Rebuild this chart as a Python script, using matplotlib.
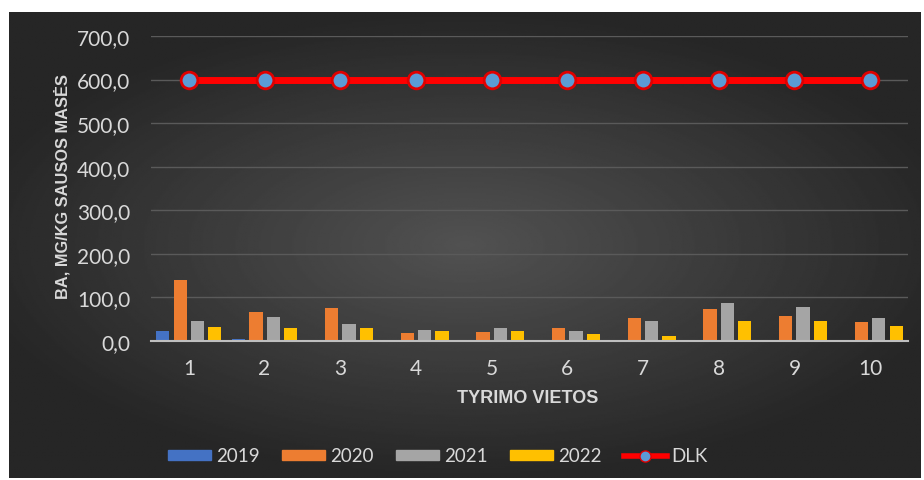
import numpy as np
import matplotlib
matplotlib.use("Agg")
import matplotlib.pyplot as plt
from matplotlib.lines import Line2D
from matplotlib.patches import Patch

plt.rcParams['font.family'] = ['Lato', 'DejaVu Sans']

sites = ["1", "2", "3", "4", "5", "6", "7", "8", "9", "10"]
v2019 = [23, 4, 0, 0, 0, 0, 0, 0, 1, 0]
v2020 = [139, 66, 76, 18, 21, 30, 52, 74, 57, 43]
v2021 = [45, 56, 40, 25, 30, 23, 47, 88, 79, 52]
v2022 = [32, 30, 30, 23, 23, 15, 11, 47, 45, 35]
dlk = [600] * 10
years = ["2019", "2020", "2021", "2022"]
colors = ["#4472c4", "#ed7d31", "#a5a5a5", "#ffc000"]
txt = "#d9d9d9"

W, H = 924, 481
fig = plt.figure(figsize=(W / 100, H / 100), dpi=100)
fig.patch.set_facecolor("white")

# dark radial-gradient background panel
bg = fig.add_axes([9 / W, 2 / H, 912 / W, 466 / H])
yy, xx = np.mgrid[-1:1:300j, -1:1:600j]
r = np.sqrt((xx / 1.1) ** 2 + (yy / 1.0) ** 2)
g = np.clip(0.32 - 0.17 * r, 0.15, 0.33)
bg.imshow(g, cmap="gray", vmin=0, vmax=1, aspect="auto", extent=[0, 1, 0, 1])
bg.axis("off")

# plot area: x from 151 to 908 px, y value 0 at 342 px, 700 at 37 px
x0, x1 = 151, 908
ytop, ybot = 37, 342
ax = fig.add_axes([x0 / W, (H - ybot) / H, (x1 - x0) / W, (ybot - ytop) / H])
ax.patch.set_alpha(0)

x = np.arange(len(sites))
bw = 0.175
step = 0.229
series = [v2019, v2020, v2021, v2022]
for i, (vals, c, lab) in enumerate(zip(series, colors, years)):
    ax.bar(x + (i - 1.5) * step, vals, bw, color=c, label=lab, zorder=3)

ax.plot(x, dlk, color="#ff0000", lw=5, marker="o", ms=12,
        markerfacecolor="#5b9bd5", markeredgecolor="#e00000", markeredgewidth=2,
        zorder=4, label="DLK")

ax.set_xlim(-0.5, len(sites) - 0.5)
ax.set_ylim(0, 700)
ax.set_yticks(np.arange(0, 701, 100))
ax.set_yticklabels([f"{v:.1f}".replace(".", ",") for v in range(0, 701, 100)])
ax.set_xticks(x)
ax.set_xticklabels(sites)
ax.grid(axis="y", color="#5a5a5a", lw=1, zorder=0)
for s in ["top", "right", "left"]:
    ax.spines[s].set_visible(False)
ax.spines["bottom"].set_color("#bfbfbf")
ax.spines["bottom"].set_linewidth(1.5)
ax.spines["bottom"].set_zorder(5)
ax.tick_params(axis="both", length=0, colors=txt, labelsize=15)
ax.tick_params(axis="y", pad=15)
ax.tick_params(axis="x", pad=12)

ax.set_ylabel("BA, MG/KG SAUSOS MASĖS", color=txt, fontsize=11.8,
              fontweight="bold", family=["Liberation Sans", "DejaVu Sans"])
ax.yaxis.set_label_coords((70 - x0) / (x1 - x0), 0.5 + 0.01)
ax.set_xlabel("TYRIMO VIETOS", color=txt, fontsize=13, fontweight="bold",
              family=["Liberation Sans", "DejaVu Sans"])
ax.xaxis.set_label_coords((528 - x0) / (x1 - x0), -(390 - ybot) / (ybot - ytop))

handles = [Patch(color=c) for c in colors] + [
    Line2D([], [], color="#ff0000", lw=4, marker="o", ms=8,
           markerfacecolor="#5b9bd5", markeredgecolor="#e00000")]
leg = fig.legend(handles, years + ["DLK"], loc="center",
                 bbox_to_anchor=(438 / W, (H - 457) / H), ncol=5, frameon=False,
                 fontsize=13.5, handlelength=2.3, handleheight=0.5,
                 columnspacing=1.2, handletextpad=0.25)
for t in leg.get_texts():
    t.set_color(txt)

fig.savefig("out.png", dpi=100, facecolor=fig.get_facecolor())
